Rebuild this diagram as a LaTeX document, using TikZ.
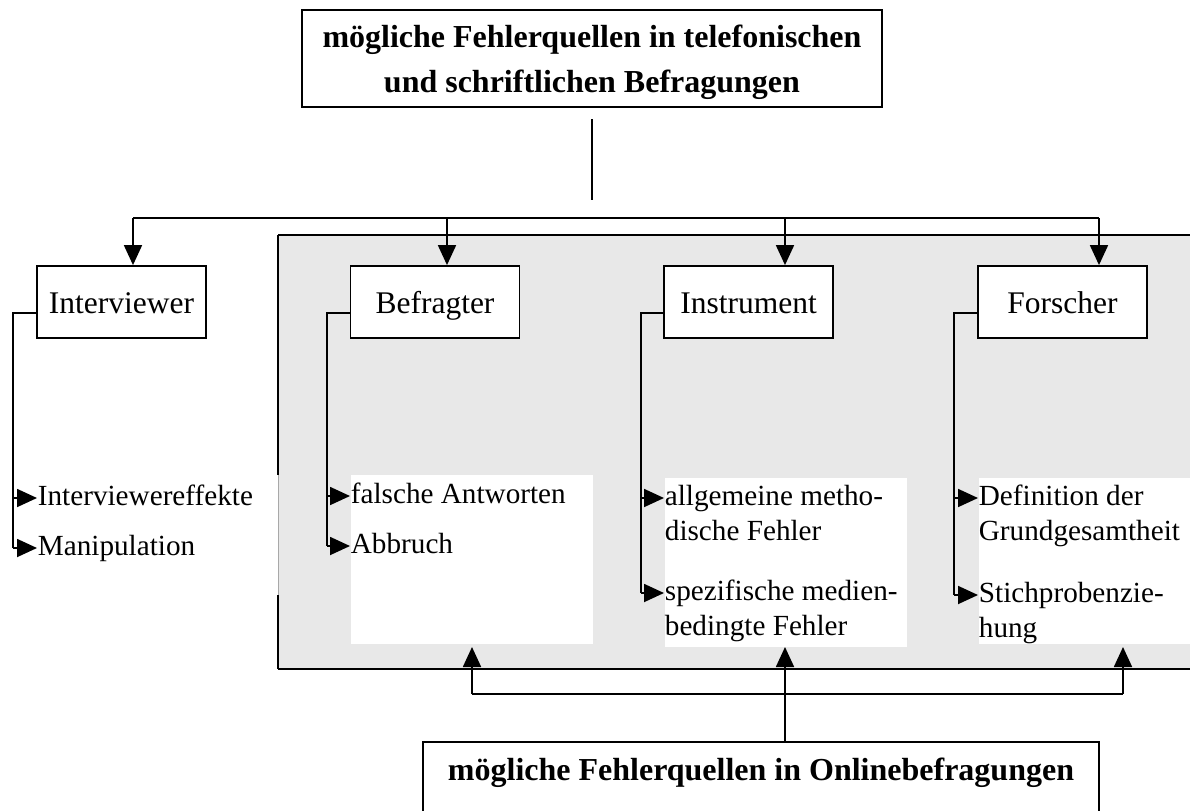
\documentclass[tikz,border=0pt]{standalone}
\usepackage{fontspec}
\setmainfont{Liberation Serif}
\usetikzlibrary{arrows.meta,calc}
\definecolor{panel}{HTML}{E8E8E8}
\definecolor{gapline}{HTML}{A8A8A8}
\begin{document}
\begin{tikzpicture}[x=0.5pt,y=-0.5pt,
  line width=0.9pt,
  arr/.style={-{Triangle[length=10pt,width=9pt]}},
  catbox/.style={draw,fill=white,minimum width=84.5pt,minimum height=36pt,inner sep=0pt,
    text height=11pt,text depth=0pt,font=\fontsize{15.75}{17.5}\selectfont},
  item/.style={anchor=base west,inner sep=0pt,font=\fontsize{14.6}{17.5}\selectfont},
  headbox/.style={draw,fill=white,inner sep=0pt,font=\bfseries\fontsize{16}{22.5}\selectfont},
  whitearea/.style={fill=white,inner sep=0pt,anchor=north west}
]
\useasboundingbox (0,0) rectangle (1190,810);
\clip (0,0) rectangle (1190,810);

% grey panel
\fill[panel] (278,235) rectangle (1200,669);
\draw (278,235) -- (1200,235);
\draw (278,669) -- (1200,669);
\draw (278,235) -- (278,475);
\draw[gapline,line width=0.5pt] (278,475) -- (278,595);
\draw (278,595) -- (278,669);

% white text areas
\node[whitearea,minimum width=121pt,minimum height=84.5pt] (wB) at (350,474) {};
\node[whitearea,minimum width=121pt,minimum height=84.5pt] (wN) at (664,477) {};
\node[whitearea,minimum width=115pt,minimum height=83pt] (wF) at (978,477) {};

% head box
\node[headbox,minimum width=290pt,minimum height=48.5pt,text height=10pt,text depth=21.5pt] (top) at (592,58.5)
  {\begin{tabular}[t]{@{}c@{}}mögliche Fehlerquellen in telefonischen\\und schriftlichen Befragungen\end{tabular}};
\coordinate (vA) at (592,119);
\coordinate (vB) at (592,200);
\draw (vA) -- (vB);

% category boxes
\node[catbox] (int) at (121.5,302) {Interviewer};
\node[catbox] (bef) at (435,302) {Befragter};
\node[catbox] (ins) at (748.5,302) {Instrument};
\node[catbox] (for) at (1062.5,302) {Forscher};

\coordinate (hI) at (133,218);
\coordinate (hB) at (447,218);
\coordinate (hN) at (785,218);
\coordinate (hF) at (1099,218);
\draw (hI) -- (hF);
\draw[arr] (hI) -- (hI |- int.north);
\draw[arr] (hB) -- (hB |- bef.north);
\draw[arr] (hN) -- (hN |- ins.north);
\draw[arr] (hF) -- (hF |- for.north);

% items
\node[item] (ie) at (37,505) {Interviewereffekte};
\node[item] (ma) at (37,555) {Manipulation};
\node[item] (fa) at (350,503) {falsche Antworten};
\node[item] (ab) at (350,553) {Abbruch};
\node[item] (al) at (664,505) {\begin{tabular}[t]{@{}l@{}}allgemeine metho-\\dische Fehler\end{tabular}};
\node[item] (sp) at (664,600) {\begin{tabular}[t]{@{}l@{}}spezifische medien-\\bedingte Fehler\end{tabular}};
\node[item] (de) at (978,505) {\begin{tabular}[t]{@{}l@{}}Definition der\\Grundgesamtheit\end{tabular}};
\node[item] (st) at (978,602) {\begin{tabular}[t]{@{}l@{}}Stichprobenzie-\\hung\end{tabular}};

\foreach \n in {ie,ma,fa,ab,al,sp,de,st}
  \coordinate (\n A) at ($(\n.base west)+(0,-7)$);

% brackets
\coordinate (bI) at (13,313);
\coordinate (bB) at (327,313);
\coordinate (bN) at (641,313);
\coordinate (bF) at (954,313);
\draw (int.west |- bI) -- (bI) -- (maA -| bI);
\draw (bef.west |- bB) -- (bB) -- (abA -| bB);
\draw (ins.west |- bN) -- (bN) -- (spA -| bN);
\draw (for.west |- bF) -- (bF) -- (stA -| bF);
\draw[arr] (ieA -| bI) -- (ieA);
\draw[arr] (maA -| bI) -- (maA);
\draw[arr] (faA -| bB) -- (faA);
\draw[arr] (abA -| bB) -- (abA);
\draw[arr] (alA -| bN) -- (alA);
\draw[arr] (spA -| bN) -- (spA);
\draw[arr] (deA -| bF) -- (deA);
\draw[arr] (stA -| bF) -- (stA);

% bottom box
\node[headbox,minimum width=338pt,minimum height=44pt,text height=10pt,text depth=16pt] (bot) at (761,786)
  {mögliche Fehlerquellen in Onlinebefragungen};
\coordinate (uB) at (472,647);
\coordinate (uN) at (785,647);
\coordinate (uF) at (1123,647);
\coordinate (jB) at (472,694);
\coordinate (jF) at (1123,694);
\draw (jB) -- (jF);
\draw[arr] (jB) -- (uB);
\draw[arr] (jF) -- (uF);
\draw[arr] (bot.north -| uN) -- (uN);
\end{tikzpicture}
\end{document}
